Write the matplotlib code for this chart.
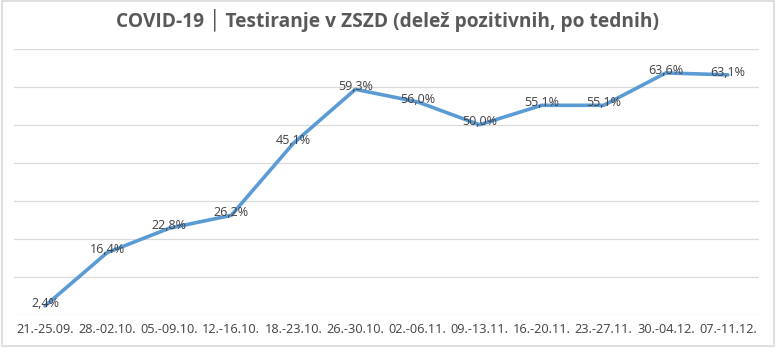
"""Weekly share of positive tests, line chart with value labels."""

import matplotlib.pyplot as plt
from matplotlib.patches import Rectangle

WEEKS = [
    "21.-25.09.", "28.-02.10.", "05.-09.10.", "12.-16.10.", "18.-23.10.", "26.-30.10.",
    "02.-06.11.", "09.-13.11.", "16.-20.11.", "23.-27.11.", "30.-04.12.", "07.-11.12.",
]
POSITIVE_PCT = [2.4, 16.4, 22.8, 26.2, 45.1, 59.3, 56.0, 50.0, 55.1, 55.1, 63.6, 63.1]

TITLE = "COVID-19 \u2502 Testiranje v ZSZD (delež pozitivnih, po tednih)"
LINE_COLOR = "#5b9bd5"
GRID_COLOR = "#d9d9d9"
TEXT_COLOR = "#404040"


def main():
    plt.rcParams["font.family"] = ["Open Sans", "DejaVu Sans"]
    fig = plt.figure(figsize=(7.76, 3.47), dpi=100)
    fig.patches.append(Rectangle((0.002, 0.003), 0.995, 0.994, transform=fig.transFigure,
                                 fill=False, edgecolor=GRID_COLOR, linewidth=1.2))

    ax = fig.add_axes([0.018, 0.092, 0.96, 0.768])
    x = list(range(len(WEEKS)))
    ax.plot(x, POSITIVE_PCT, color=LINE_COLOR, linewidth=2.6, solid_capstyle="round",
            solid_joinstyle="round", zorder=3)
    for xi, val in zip(x, POSITIVE_PCT):
        label = f"{val:.1f}%".replace(".", ",")
        ax.annotate(label, (xi, val), xytext=(0, 2), textcoords="offset points",
                    ha="center", va="center", fontsize=9, color=TEXT_COLOR, zorder=4)

    ax.set_xlim(-0.5, len(WEEKS) - 0.5)
    ax.set_ylim(0, 70)
    ax.set_yticks(range(0, 71, 10))
    ax.set_yticklabels([])
    ax.tick_params(axis="y", length=0)
    ax.set_xticks(x)
    ax.set_xticklabels(WEEKS, fontsize=9.2, color=TEXT_COLOR)
    ax.tick_params(axis="x", length=0, pad=6)
    ax.grid(axis="y", color=GRID_COLOR, linewidth=0.9)
    ax.set_axisbelow(True)
    for spine in ax.spines.values():
        spine.set_visible(False)

    fig.text(0.5, 0.94, TITLE, ha="center", va="center", fontsize=13.8,
             fontweight="bold", color="#595959")
    fig.savefig("out.png", dpi=100)
    plt.close(fig)


if __name__ == "__main__":
    main()
